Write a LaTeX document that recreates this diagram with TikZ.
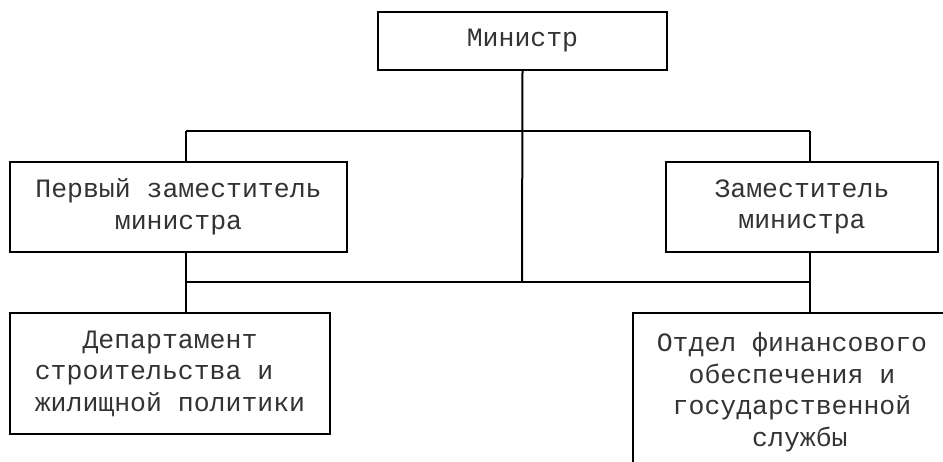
\documentclass[tikz,border=0pt]{standalone}
\usepackage{fontspec}
\setmainfont{Liberation Mono}
\begin{document}
\begin{tikzpicture}[x=1pt,y=-1pt,
  box/.style={draw=black, line width=2pt, inner sep=0pt, align=center,
    text=black!80, font=\fontsize{26.5}{31.5}\selectfont},
  conn/.style={draw=black, line width=2pt}]
\useasboundingbox (0,0) rectangle (943,461);
\clip (0,0) rectangle (943,461);
\node[box, minimum width=289pt, minimum height=58pt] (min) at (522.5,41) {Министр};
\node[box, minimum width=337pt, minimum height=90pt] (l1) at (178.5,207) {Первый заместитель\\министра};
\node[box, minimum width=272pt, minimum height=90pt] (r1) at (802,207) {Заместитель\\министра};
\node[box, minimum width=320pt, minimum height=121pt] (bl) at (170,373.5) {Департамент\\строительства и\hphantom{xx}\\жилищной политики};
\node[box, minimum width=318pt, minimum height=158pt] (br) at (792,392) {Отдел финансового\\обеспечения и\\государственной\\\hphantom{x}службы};
\coordinate (jt) at (522,131);
\coordinate (jb) at (522,282);
\coordinate (la) at (186,131);
\coordinate (ra) at (810,131);
\coordinate (lb) at (186,282);
\coordinate (rb) at (810,282);
\draw[conn] (min.south) -- (jb);
\draw[conn] (la) -- (ra);
\draw[conn] (la) -- (la |- l1.north);
\draw[conn] (ra) -- (ra |- r1.north);
\draw[conn] (lb) -- (rb);
\draw[conn] (la |- l1.south) -- (la |- bl.north);
\draw[conn] (ra |- r1.south) -- (ra |- br.north);
\end{tikzpicture}
\end{document}
